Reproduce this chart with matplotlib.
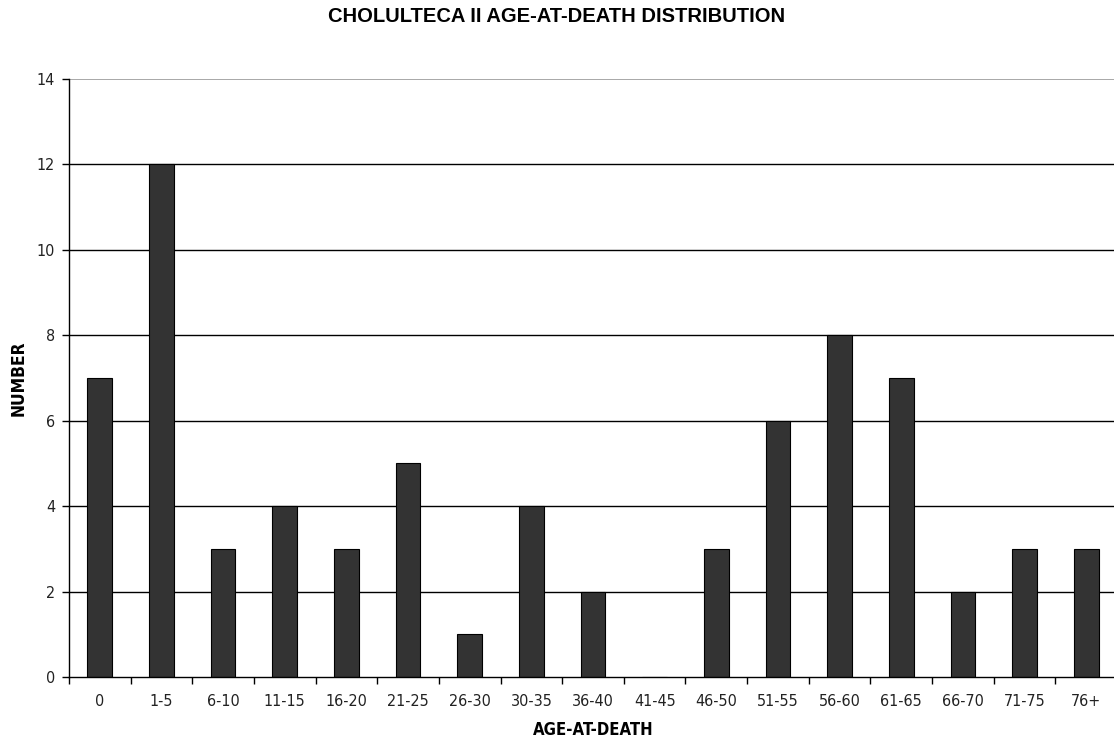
import matplotlib
matplotlib.use("Agg")
import matplotlib.pyplot as plt
import numpy as np

categories = ["0", "1-5", "6-10", "11-15", "16-20", "21-25", "26-30", "30-35", "36-40",
              "41-45", "46-50", "51-55", "56-60", "61-65", "66-70", "71-75", "76+"]
counts = [7, 12, 3, 4, 3, 5, 1, 4, 2, 0, 3, 6, 8, 7, 2, 3, 3]
yticks = [0, 2, 4, 6, 8, 10, 12, 14]

W, H = 1114, 740
fig = plt.figure(figsize=(W / 100, H / 100), dpi=100)
left, right, top, bottom = 69, 1117, 79, 677
ax = fig.add_axes([left / W, 1 - bottom / H, (right - left) / W, (bottom - top) / H])

x = np.arange(len(categories))
ax.bar(x, counts, width=0.4, color="#333333", edgecolor="black", linewidth=0.8, zorder=3)
ax.set_xlim(-0.5, len(categories) - 0.5)
ax.set_ylim(0, 14)

for v in yticks[1:-1]:
    ax.axhline(v, color="black", linewidth=1.0, zorder=1)
ax.axhline(14, color="#999999", linewidth=1.2, zorder=1)

for s in ["top", "right"]:
    ax.spines[s].set_visible(False)
for s in ["left", "bottom"]:
    ax.spines[s].set_linewidth(1.0)
    ax.spines[s].set_zorder(4)

tick_font = dict(fontsize=11.5, family="DejaVu Sans", stretch="condensed", color="#222222")
ax.set_yticks(yticks)
ax.set_yticklabels([str(v) for v in yticks], **tick_font)
ax.set_xticks(x)
ax.set_xticklabels(categories, **tick_font)
ax.set_xticks(np.arange(len(categories)) - 0.5, minor=True)
ax.tick_params(axis="x", which="major", length=0, pad=12)
ax.tick_params(axis="x", which="minor", length=5, width=1, direction="out")
ax.tick_params(axis="y", length=5, width=1, direction="out", pad=5)

ax.set_xlabel("AGE-AT-DEATH", fontsize=12, fontweight="bold", family="DejaVu Sans", stretch="condensed")
ax.xaxis.set_label_coords((593 - left) / (right - left), -(730 - bottom) / (bottom - top))
ax.xaxis.label.set_va("center")
ax.set_ylabel("NUMBER", fontsize=12.5, fontweight="bold", family="DejaVu Sans", stretch="condensed")
ax.yaxis.set_label_coords(-(left - 19) / (right - left), 0.5)
ax.yaxis.label.set_va("center")

fig.text(0.5, 1 - 17 / H, "CHOLULTECA II AGE-AT-DEATH DISTRIBUTION", ha="center", va="center",
         fontsize=14.5, fontweight="bold", family="Liberation Sans")

fig.savefig("out.png", dpi=100)
